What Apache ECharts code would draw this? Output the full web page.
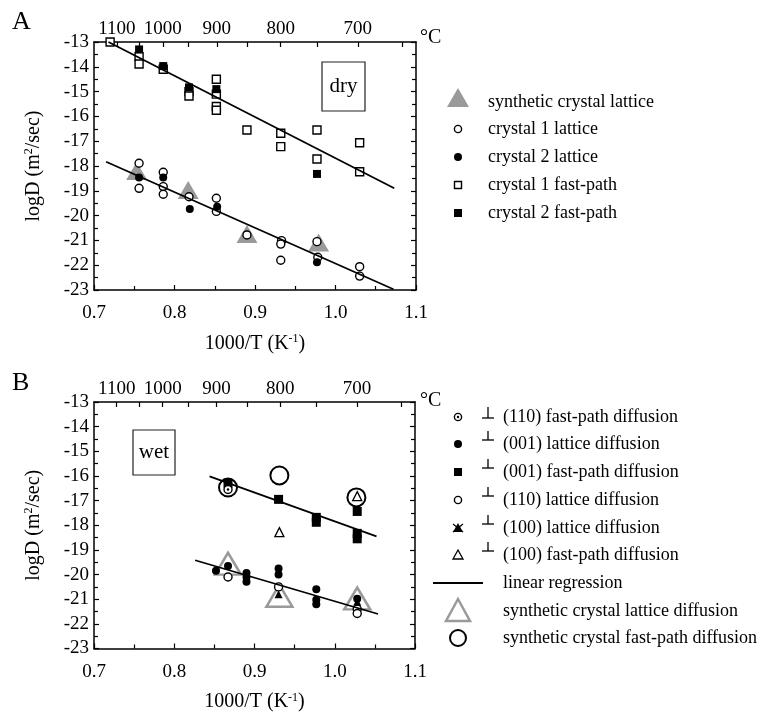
<!DOCTYPE html>
<html>
<head>
<meta charset="utf-8">
<script src="https://cdn.jsdelivr.net/npm/echarts@6/dist/echarts.min.js"></script>
<style>
  html, body { margin: 0; background: #fff; }
  #chart { width: 769px; height: 713px; }
</style>
</head>
<body>
<div id="chart"></div>
<script>
const serif = '"Liberation Serif", "Times New Roman", serif'
const gray = '#9a9a9a'

// top axis (degrees C)
const celsiusTicks = [1100, 1050, 1000, 950, 900, 850, 800, 750, 700, 650]
const celsiusLabels = [1100, 1000, 900, 800, 700]

// panel A (dry)
const synLatticeA = [[0.753, -18.2], [0.817, -18.97], [0.890, -20.74], [0.979, -21.08]]
const c1LatticeA = [
  [0.756, -17.89], [0.756, -18.9], [0.786, -18.25], [0.786, -18.83], [0.786, -19.14],
  [0.818, -19.24], [0.852, -19.3], [0.852, -19.83], [0.890, -20.78], [0.933, -21.01],
  [0.932, -21.15], [0.932, -21.8], [0.977, -21.05], [0.978, -21.68], [1.030, -22.06], [1.030, -22.44]
]
const c2LatticeA = [[0.756, -18.46], [0.786, -18.46], [0.819, -19.73], [0.853, -19.64], [0.977, -21.88]]
const c1FastA = [
  [0.720, -13.0], [0.756, -13.59], [0.756, -13.89], [0.786, -14.1], [0.818, -15.0], [0.818, -15.18],
  [0.852, -14.5], [0.852, -15.1], [0.852, -15.6], [0.852, -15.75], [0.890, -16.55], [0.932, -16.68],
  [0.932, -17.22], [0.977, -16.55], [0.977, -17.72], [1.030, -17.06], [1.030, -18.23]
]
const c2FastA = [[0.756, -13.3], [0.786, -13.97], [0.818, -14.83], [0.852, -14.9], [0.977, -18.32]]
const fitFastA = [[0.718, -13.0], [1.073, -18.9]]
const fitLatticeA = [[0.715, -17.83], [1.072, -22.97]]

// panel B (wet)
const synLatticeB = [[0.867, -19.56], [0.931, -20.86], [1.028, -20.97]]
const synFastB = [[0.867, -16.47], [0.931, -15.98], [1.027, -16.87]]
const fast110B = [[0.867, -16.55]]
const lattice001B = [
  [0.852, -19.85], [0.867, -19.65], [0.890, -19.94], [0.890, -20.10], [0.890, -20.29],
  [0.930, -19.75], [0.930, -20.0], [0.977, -20.6], [0.977, -21.02], [0.977, -21.2], [1.028, -20.98]
]
const fast001B = [[0.867, -16.3], [0.930, -16.95], [0.977, -17.68], [0.977, -17.88], [1.028, -17.44], [1.028, -18.33], [1.028, -18.55]]
const lattice110B = [[0.867, -20.1], [0.930, -20.5], [1.028, -21.4], [1.028, -21.58]]
const lattice100B = [[0.930, -20.8], [1.028, -21.1]]
const fast100B = [[0.931, -18.28], [1.028, -16.82]]
const fitFastB = [[0.844, -16.02], [1.052, -18.45]]
const fitLatticeB = [[0.826, -19.42], [1.054, -21.6]]

const toX = c => 1000 / (c + 273)
const black = '#000'

function axesFor(grid) {
  const line = { lineStyle: { color: black, width: 1.5 } }
  const tick = { inside: true, length: 5, lineStyle: { color: black, width: 1.2 } }
  const minor = { show: true, splitNumber: 2, length: 4, lineStyle: { color: black, width: 1.2 } }
  const label = { fontFamily: serif, fontSize: 19, color: black }
  const nameStyle = {
    fontFamily: serif, fontSize: 20, color: black,
    rich: { sup: { fontFamily: serif, fontSize: 12, color: black, padding: [0, 0, 9, 0] } }
  }
  return {
    x: [
      {
        gridIndex: grid, type: 'value', min: 0.7, max: 1.1, interval: 0.1,
        axisLine: line, axisTick: tick, minorTick: minor, splitLine: { show: false },
        axisLabel: Object.assign({ margin: 14, formatter: v => v.toFixed(1) }, label),
        name: '1000/T (K{sup|-1})', nameLocation: 'middle', nameGap: 43, nameTextStyle: nameStyle
      },
      {
        gridIndex: grid, type: 'value', position: 'top', min: 0.7, max: 1.1,
        axisLine: line, splitLine: { show: false },
        axisTick: Object.assign({ customValues: celsiusTicks.map(toX) }, tick),
        axisLabel: Object.assign({ margin: 3, customValues: celsiusLabels.map(toX), formatter: v => String(Math.round(1000 / v - 273)) }, label)
      }
    ],
    y: [
      {
        gridIndex: grid, type: 'value', min: -23, max: -13, interval: 1,
        axisLine: line, axisTick: tick, minorTick: minor, splitLine: { show: false },
        axisLabel: Object.assign({ margin: 5 }, label),
        name: 'logD (m{sup|2}/sec)', nameLocation: 'middle', nameRotate: 90, nameGap: 50, nameTextStyle: nameStyle
      },
      {
        gridIndex: grid, type: 'value', position: 'right', min: -23, max: -13, interval: 1,
        axisLine: line, axisTick: tick, minorTick: minor, splitLine: { show: false },
        axisLabel: { show: false }
      }
    ]
  }
}

const axA = axesFor(0)
const axB = axesFor(1)

function pts(data, xi, yi, symbol, size, fill, stroke, bw) {
  return {
    type: 'scatter', xAxisIndex: xi, yAxisIndex: yi, data: data, symbol: symbol, symbolSize: size,
    itemStyle: { color: fill, borderColor: stroke, borderWidth: bw, opacity: 1 },
    emphasis: { disabled: true }, silent: true
  }
}
function fit(data, xi, yi) {
  return {
    type: 'line', xAxisIndex: xi, yAxisIndex: yi, data: data, symbol: 'none',
    lineStyle: { color: black, width: 1.8 }, silent: true
  }
}

const series = [
  fit(fitFastA, 0, 0),
  fit(fitLatticeA, 0, 0),
  pts(synLatticeA, 0, 0, 'triangle', [21, 18], gray, gray, 0),
  pts(c1LatticeA, 0, 0, 'circle', 8, '#fff', black, 1.4),
  pts(c2LatticeA, 0, 0, 'circle', 8, black, black, 0),
  pts(c1FastA, 0, 0, 'rect', 8, '#fff', black, 1.4),
  pts(c2FastA, 0, 0, 'rect', 8, black, black, 0),

  fit(fitFastB, 2, 2),
  fit(fitLatticeB, 2, 2),
  pts(synLatticeB, 2, 2, 'triangle', [26, 22], 'rgba(0,0,0,0)', gray, 2.5),
  pts(synFastB, 2, 2, 'circle', 18, 'rgba(0,0,0,0)', black, 2),
  pts(lattice001B, 2, 2, 'circle', 8, black, black, 0),
  pts(fast001B, 2, 2, 'rect', 9, black, black, 0),
  pts(lattice110B, 2, 2, 'circle', 8, '#fff', black, 1.4),
  pts(fast110B, 2, 2, 'circle', 8, '#fff', black, 1.4),
  pts(fast110B, 2, 2, 'circle', 2.5, black, black, 0),
  pts(lattice100B, 2, 2, 'triangle', 8, black, black, 0),
  pts(fast100B, 2, 2, 'triangle', 9, '#fff', black, 1.3)
]

// legends, panel letters and boxes
function txt(x, y, s, size, align) {
  return { type: 'text', x: x, y: y, silent: true,
    style: { text: s, font: size + 'px ' + serif, fill: black, align: align || 'left', verticalAlign: 'middle' } }
}
function perp(x, yTop, yBot) {
  return [
    { type: 'line', silent: true, shape: { x1: x, y1: yTop, x2: x, y2: yBot }, style: { stroke: black, lineWidth: 1.3 } },
    { type: 'line', silent: true, shape: { x1: x - 6, y1: yBot, x2: x + 6, y2: yBot }, style: { stroke: black, lineWidth: 1.3 } }
  ]
}
const legendA = ['synthetic crystal lattice', 'crystal 1 lattice', 'crystal 2 lattice', 'crystal 1 fast-path', 'crystal 2 fast-path']
const legendB = ['(110) fast-path diffusion', '(001) lattice diffusion', '(001) fast-path diffusion', '(110) lattice diffusion',
  '(100) lattice diffusion', '(100) fast-path diffusion', 'linear regression', 'synthetic crystal lattice diffusion', 'synthetic crystal fast-path diffusion']
const rowsA = [102, 129, 157, 185, 213]
const rowsB = [417, 444, 472, 500, 528, 555, 583, 611, 638]

const g = []
g.push(txt(12, 22, 'A', 26), txt(12, 383, 'B', 26))
g.push(txt(420, 38, '°C', 20), txt(420, 401, '°C', 20))
g.push({ type: 'rect', silent: true, shape: { x: 322, y: 62, width: 43, height: 49 }, style: { fill: 'none', stroke: '#222', lineWidth: 1.2 } })
g.push(txt(343.5, 86, 'dry', 21, 'center'))
g.push({ type: 'rect', silent: true, shape: { x: 133, y: 430, width: 42, height: 45 }, style: { fill: 'none', stroke: '#222', lineWidth: 1.2 } })
g.push(txt(154, 452, 'wet', 21, 'center'))

legendA.forEach((s, i) => g.push(txt(488, rowsA[i], s, 18)))
g.push({ type: 'polygon', silent: true, shape: { points: [[458, 88], [469, 107], [447, 107]] }, style: { fill: gray } })
g.push({ type: 'circle', silent: true, shape: { cx: 458, cy: rowsA[1], r: 3.6 }, style: { fill: '#fff', stroke: black, lineWidth: 1.4 } })
g.push({ type: 'circle', silent: true, shape: { cx: 458, cy: rowsA[2], r: 4 }, style: { fill: black } })
g.push({ type: 'rect', silent: true, shape: { x: 454.5, y: rowsA[3] - 3.5, width: 7, height: 7 }, style: { fill: '#fff', stroke: black, lineWidth: 1.4 } })
g.push({ type: 'rect', silent: true, shape: { x: 454, y: rowsA[4] - 4, width: 8, height: 8 }, style: { fill: black } })

legendB.forEach((s, i) => g.push(txt(503, rowsB[i], s, 18)))
g.push(...perp(488, rowsB[0] - 10, rowsB[0] + 1))
for (let i = 1; i < 6; i++) g.push(...perp(488, rowsB[i] - 13, rowsB[i] - 4))
g.push({ type: 'circle', silent: true, shape: { cx: 458, cy: rowsB[0], r: 3.6 }, style: { fill: '#fff', stroke: black, lineWidth: 1.4 } })
g.push({ type: 'circle', silent: true, shape: { cx: 458, cy: rowsB[0], r: 1.2 }, style: { fill: black } })
g.push({ type: 'circle', silent: true, shape: { cx: 458, cy: rowsB[1], r: 4 }, style: { fill: black } })
g.push({ type: 'rect', silent: true, shape: { x: 454, y: rowsB[2] - 4, width: 8, height: 8 }, style: { fill: black } })
g.push({ type: 'circle', silent: true, shape: { cx: 458, cy: rowsB[3], r: 3.6 }, style: { fill: '#fff', stroke: black, lineWidth: 1.4 } })
g.push({ type: 'polygon', silent: true, shape: { points: [[458, rowsB[4] - 5], [463, rowsB[4] + 4], [453, rowsB[4] + 4]] }, style: { fill: black } })
g.push({ type: 'line', silent: true, shape: { x1: 453, y1: rowsB[4] - 4, x2: 463, y2: rowsB[4] + 4 }, style: { stroke: black, lineWidth: 1.2 } })
g.push({ type: 'line', silent: true, shape: { x1: 463, y1: rowsB[4] - 4, x2: 453, y2: rowsB[4] + 4 }, style: { stroke: black, lineWidth: 1.2 } })
g.push({ type: 'polygon', silent: true, shape: { points: [[458, rowsB[5] - 5], [463, rowsB[5] + 4], [453, rowsB[5] + 4]] }, style: { fill: '#fff', stroke: black, lineWidth: 1.3 } })
g.push({ type: 'line', silent: true, shape: { x1: 433, y1: rowsB[6], x2: 483, y2: rowsB[6] }, style: { stroke: black, lineWidth: 1.8 } })
g.push({ type: 'polygon', silent: true, shape: { points: [[458, rowsB[7] - 12], [470, rowsB[7] + 10], [446, rowsB[7] + 10]] }, style: { fill: 'none', stroke: gray, lineWidth: 2.5 } })
g.push({ type: 'circle', silent: true, shape: { cx: 458, cy: rowsB[8], r: 8 }, style: { fill: 'none', stroke: black, lineWidth: 2 } })

const chart = echarts.init(document.getElementById('chart'))
chart.setOption({
  backgroundColor: '#fff',
  animation: false,
  grid: [
    { left: 94, top: 42, width: 322, height: 248 },
    { left: 94, top: 402, width: 321, height: 247 }
  ],
  xAxis: axA.x.concat(axB.x),
  yAxis: axA.y.concat(axB.y),
  series: series,
  graphic: g
})
</script>
</body>
</html>
